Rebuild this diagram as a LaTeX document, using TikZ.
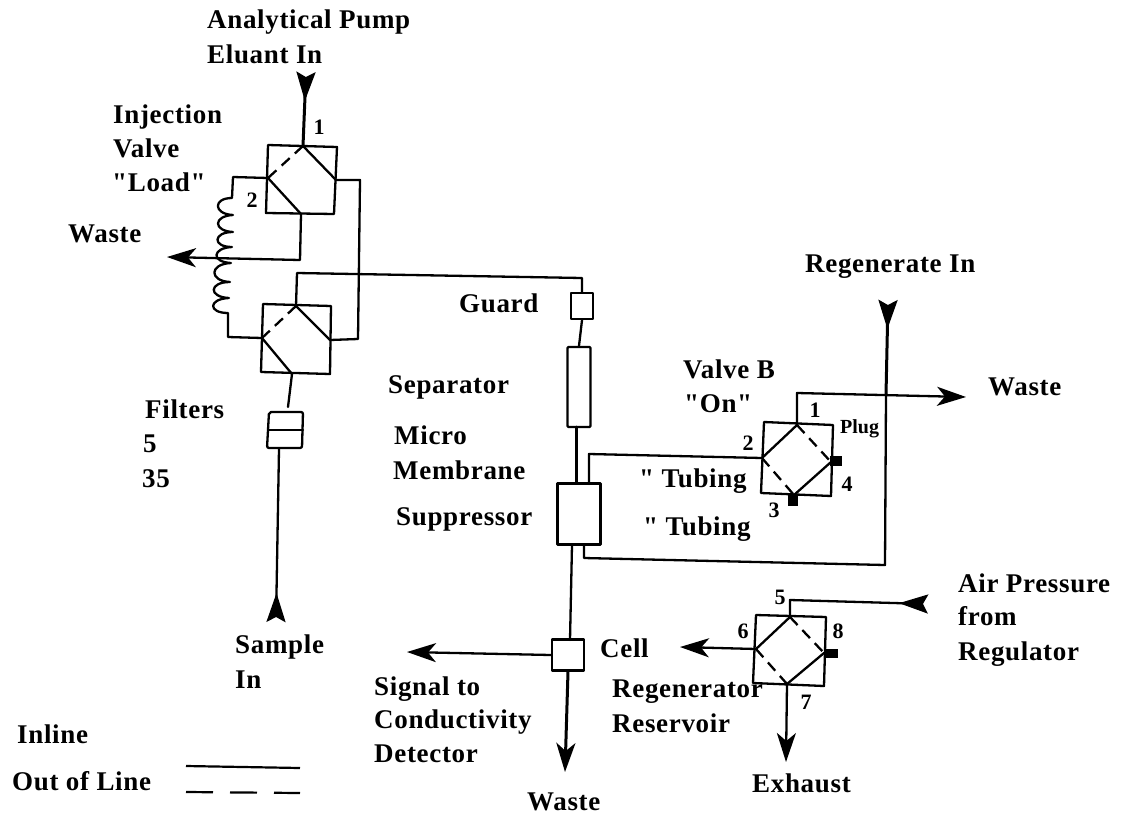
\documentclass[tikz,border=0pt]{standalone}
\usepackage{fontspec}
\newfontfamily\labfont[LetterSpace=2.5]{Liberation Serif}
\newfontfamily\numfont{Liberation Serif}
\usetikzlibrary{arrows.meta}
\tikzset{
  x=1pt,y=-1pt,
  wire/.style={line width=2.3pt,line join=round,line cap=round},
  thick wire/.style={line width=3pt,line join=round,line cap=round},
  port/.style={wire,dash pattern=on 11pt off 7pt,line cap=butt},
  legend dash/.style={line width=2.2pt,dash pattern=on 27pt off 17pt},
  lab/.style={anchor=base west,inner sep=0pt,font=\labfont\bfseries\fontsize{27}{27}\selectfont},
  num/.style={anchor=center,inner sep=0pt,font=\numfont\bfseries\fontsize{22}{22}\selectfont},
  small/.style={anchor=base west,inner sep=0pt,font=\numfont\bfseries\fontsize{20}{20}\selectfont},
  outhead/.style={-{Stealth[length=29pt,width=19pt,inset=8pt]}},
  inhead/.style={{Stealth[reversed,length=29pt,width=19pt,inset=5pt]}-},
  plug/.style={fill=black,draw=none},
}
\begin{document}
\begin{tikzpicture}
\useasboundingbox (0,0) rectangle (1127,819);
% ---- top valve of injection
\coordinate (at) at (303,146); \coordinate (al) at (268,178);
\coordinate (ar) at (336,180); \coordinate (ab) at (301,214);
\draw[wire] (268,145) -- (337,147) -- (334,214) -- (266,213) -- cycle;
\draw[wire] (at) -- (ar) (al) -- (ab);
\draw[port] (at) -- (al);
% ---- lower valve of injection
\coordinate (bt) at (296,306); \coordinate (bl) at (262,338);
\coordinate (br) at (330,340); \coordinate (bb) at (292,374);
\draw[wire] (263,304) -- (331,306) -- (330,374) -- (261,372) -- cycle;
\draw[wire] (bt) -- (br) (bl) -- (bb);
\draw[port] (bt) -- (bl);
% ---- inlet
\coordinate (eluant) at (306,72);
\draw[thick wire,inhead] (eluant) -- (303,146);
% ---- coil
\draw[wire] (al) -- (233,177) -- (232,198)
  .. controls (213,198) and (213,214) .. (233,215)
  .. controls (213,216) and (213,231) .. (233,232)
  .. controls (213,232) and (212,247) .. (232,247)
  .. controls (212,248) and (211,262) .. (231,263)
  .. controls (209,264) and (209,281) .. (230,282)
  .. controls (209,282) and (208,297) .. (229,298)
  .. controls (208,299) and (208,313) .. (228,313)
  -- (228,337) -- (bl);
% ---- waste left
\coordinate (wasteA) at (167,257);
\draw[wire,outhead] (ab) -- (300,260) -- (wasteA);
% ---- loop
\draw[wire] (ar) -- (360,180) -- (358,339) -- (br);
% ---- line to guard
\node[draw,wire,minimum width=22pt,minimum height=26pt,inner sep=0pt] (guard) at (582,306) {};
\node[draw,wire,minimum width=23pt,minimum height=80pt,inner sep=0pt,rounded corners=1pt] (sep) at (579,387) {};
\node[draw,wire,minimum width=43pt,minimum height=61pt,inner sep=0pt] (supp) at (579,514) {};
\node[draw,wire,minimum width=32pt,minimum height=31pt,inner sep=0pt] (cell) at (568,655) {};
\draw[wire] (bt) -- (297,273) -- (582,278) -- (guard.north);
\draw[wire] (guard.south) -- (sep.north);
\draw[thick wire] (576,427) -- (576,483);
\draw[wire] (572,545) -- (570,640);
% ---- filters
\draw[wire,rounded corners=2pt] (269,412) -- (303,412) -- (302,448) -- (267,448) -- cycle;
\draw[wire] (268,430) -- (303,430);
\draw[wire] (bb) -- (288,407);
\coordinate (samplein) at (276,622);
\draw[wire,inhead] (samplein) -- (279,449);
% ---- valve B
\coordinate (ct) at (797,425); \coordinate (cl) at (762,458);
\coordinate (cr) at (831,462); \coordinate (cb) at (794,495);
\draw[wire] (764,422) -- (833,425) -- (831,496) -- (761,493) -- cycle;
\draw[wire] (ct) -- (cl) (cr) -- (cb);
\draw[port] (ct) -- (cr); \draw[port] (cl) -- (cb);
\fill[plug] (830,456) rectangle (842,466);
\fill[plug] (788,495) rectangle (798,506);
\draw[wire] (589,484) -- (589,454) -- (cl);
\coordinate (wasteB) at (966,397);
\draw[wire,outhead] (ct) -- (797,393) -- (wasteB);
\coordinate (regen) at (888,300);
\draw[thick wire,inhead] (regen) -- (886,395);
\draw[wire] (886,395) -- (885,565) -- (584,558) -- (584,545);
% ---- regenerator valve
\coordinate (dt) at (790,617); \coordinate (dl) at (756,649);
\coordinate (dr) at (824,653); \coordinate (db) at (787,684);
\draw[wire] (756,615) -- (826,617) -- (824,686) -- (753,683) -- cycle;
\draw[wire] (dt) -- (dl) (dr) -- (db);
\draw[port] (dt) -- (dr); \draw[port] (dl) -- (db);
\fill[plug] (824,649) rectangle (838,658);
\coordinate (air) at (928,604);
\draw[wire,inhead] (air) -- (790,600) -- (dt);
\coordinate (cellout) at (680,647);
\draw[wire,outhead] (dl) -- (cellout);
\coordinate (exhaust) at (786,762);
\draw[wire,outhead] (db) -- (exhaust);
% ---- cell arrows
\coordinate (signal) at (407,652);
\draw[wire,outhead] (cell.west) -- (signal);
\coordinate (wasteC) at (565,772);
\draw[thick wire,outhead] (cell.south) -- (wasteC);
% ---- legend
\coordinate (la) at (186,766); \coordinate (lb) at (300,768);
\coordinate (lc) at (186,792); \coordinate (ld) at (300,793);
\draw[line width=2.2pt] (la) -- (lb);
\draw[legend dash] (lc) -- (ld);
% ---- labels
\node[lab] (t1) at (207,28) {Analytical Pump};
\node[lab] (t2) at (207,63) {Eluant In};
\node[lab] (t3) at (113,123) {Injection};
\node[lab] (t4) at (113,157) {Valve};
\node[lab] (t5) at (112,191) {"Load"};
\node[lab] (t6) at (68,242) {Waste};
\node[lab] (t7) at (145,418) {Filters};
\node[lab] (t8) at (143,452) {5};
\node[lab] (t9) at (142,487) {35};
\node[lab] (t10) at (235,653) {Sample};
\node[lab] (t11) at (235,688) {In};
\node[lab] (t12) at (459,312) {Guard};
\node[lab] (t13) at (388,393) {Separator};
\node[lab] (t14) at (394,444) {Micro};
\node[lab] (t15) at (393,479) {Membrane};
\node[lab] (t16) at (396,525) {Suppressor};
\node[lab] (t17) at (805,272) {Regenerate In};
\node[lab] (t18) at (988,395) {Waste};
\node[lab] (t19) at (683,378) {Valve B};
\node[lab] (t20) at (684,412) {"On"};
\node[lab] (t21) at (639,487) {" Tubing};
\node[lab] (t22) at (643,535) {" Tubing};
\node[lab] (t23) at (600,657) {Cell};
\node[lab] (t24) at (612,697) {Regenerator};
\node[lab] (t25) at (612,732) {Reservoir};
\node[lab] (t26) at (752,792) {Exhaust};
\node[lab] (t27) at (958,592) {Air Pressure};
\node[lab] (t28) at (958,625) {from};
\node[lab] (t29) at (958,660) {Regulator};
\node[lab] (t30) at (374,695) {Signal to};
\node[lab] (t31) at (374,728) {Conductivity};
\node[lab] (t32) at (374,762) {Detector};
\node[lab] (t33) at (527,810) {Waste};
\node[lab] (t34) at (17,743) {Inline};
\node[lab] (t35) at (12,790) {Out of Line};
\node[small] (t36) at (840,433) {Plug};
\node[num] (n1) at (319,127) {1};
\node[num] (n2) at (252,200) {2};
\node[num] (n3) at (815,410) {1};
\node[num] (n4) at (748,443) {2};
\node[num] (n5) at (774,510) {3};
\node[num] (n6) at (847,484) {4};
\node[num] (n7) at (780,597) {5};
\node[num] (n8) at (743,631) {6};
\node[num] (n9) at (806,702) {7};
\node[num] (n10) at (838,631) {8};
\end{tikzpicture}
\end{document}
